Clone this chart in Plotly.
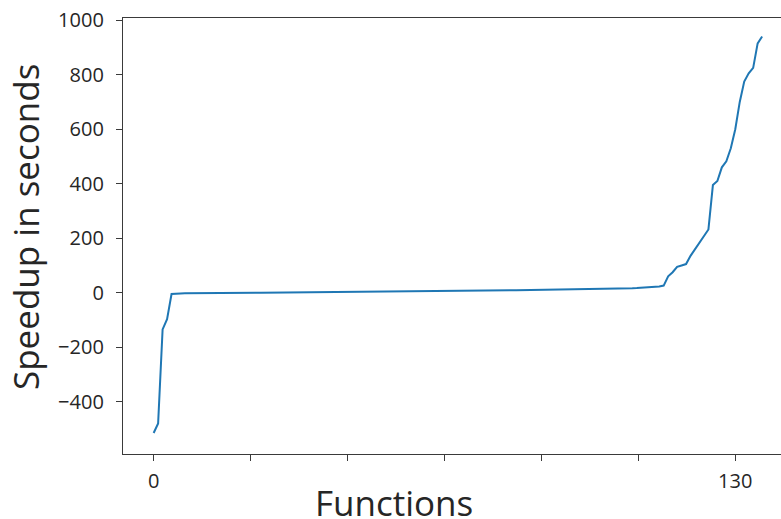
import plotly.graph_objects as go

# Data: sorted speedup (seconds) per function, index 0..136
speedup = [
    -515, -480, -135, -97, -5, -3.0, -2.6, -2.3, -2.0, -1.8,
    -1.6, -1.4, -1.3, -1.2, -1.1, -1.0, -0.9, -0.8, -0.7, -0.6,
    -0.5, -0.4, -0.3, -0.2, -0.1, 0.0, 0.1, 0.2, 0.3, 0.4,
    0.5, 0.6, 0.7, 0.8, 0.9, 1.0, 1.1, 1.2, 1.3, 1.4,
    1.5, 1.6, 1.7, 1.9, 2.0, 2.1, 2.2, 2.4, 2.5, 2.6,
    2.8, 3.0, 3.1, 3.3, 3.5, 3.6, 3.8, 4.0, 4.2, 4.4,
    4.6, 4.8, 5.0, 5.2, 5.4, 5.6, 5.8, 6.0, 6.2, 6.4,
    6.6, 6.8, 7.0, 7.2, 7.4, 7.6, 7.8, 8.0, 8.2, 8.4,
    8.6, 8.8, 9.0, 9.2, 9.4, 9.6, 9.8, 10.0, 10.2, 10.4,
    10.6, 10.8, 11.0, 11.2, 11.5, 11.8, 12.0, 12.3, 12.6, 12.9,
    13.2, 13.5, 13.8, 14.1, 14.5, 15.0, 15.5, 16.0, 16.8, 17.5,
    18.5, 19.5, 21, 23, 26, 60, 75, 95, 100, 105,
    135, 160, 180, 205, 232, 395, 410, 460, 482, 530,
    600, 700, 775, 805, 825, 915, 940,
]
functions = list(range(len(speedup)))

x_tickvals = [0, 130 / 6, 2 * 130 / 6, 3 * 130 / 6, 4 * 130 / 6, 5 * 130 / 6, 130]
x_ticktext = ["0", "", "", "", "", "", "130"]
y_tickvals = [-400, -200, 0, 200, 400, 600, 800, 1000]

TEXT = "#262626"
AX = "#3a3a3a"
FONT = "Open Sans"

fig = go.Figure()
fig.add_trace(go.Scatter(
    x=functions, y=speedup, mode="lines",
    line=dict(color="#1f77b4", width=2),
    hoverinfo="skip", showlegend=False,
))

fig.update_layout(
    width=781, height=519,
    margin=dict(l=123, r=0, t=18, b=65, autoexpand=False),
    paper_bgcolor="white", plot_bgcolor="white",
    font=dict(family=FONT, color=TEXT),
    xaxis=dict(
        range=[-6.85, 140.22], showgrid=False, zeroline=False,
        showline=True, linecolor=AX, linewidth=1.3, mirror=True,
        ticks="outside", ticklen=6, tickwidth=1, tickcolor=AX,
        tickvals=x_tickvals, ticktext=x_ticktext,
        tickfont=dict(size=20, color=TEXT, family=FONT),
        ticklabelstandoff=3, automargin=False,
    ),
    yaxis=dict(
        range=[-592, 1008], showgrid=False, zeroline=False,
        showline=True, linecolor=AX, linewidth=1.3,
        ticks="outside", ticklen=6, tickwidth=1, tickcolor=AX,
        tickvals=y_tickvals,
        tickfont=dict(size=20, color=TEXT, family=FONT),
        ticklabelstandoff=8, automargin=False,
    ),
    annotations=[
        dict(text="Functions", xref="paper", yref="paper",
             x=(394 - 123) / 658, y=(454 - 502) / 436,
             xanchor="center", yanchor="middle", showarrow=False,
             font=dict(size=35, color=TEXT, family=FONT)),
        dict(text="Speedup in seconds", xref="paper", yref="paper",
             x=(26 - 123) / 658, y=(454 - 227) / 436, textangle=-90,
             xanchor="center", yanchor="middle", showarrow=False,
             font=dict(size=35, color=TEXT, family=FONT)),
    ],
)

fig.write_html(
    "out.html",
    config={"displayModeBar": False},
    post_script="document.body.style.margin='0';document.body.style.padding='0';",
)
